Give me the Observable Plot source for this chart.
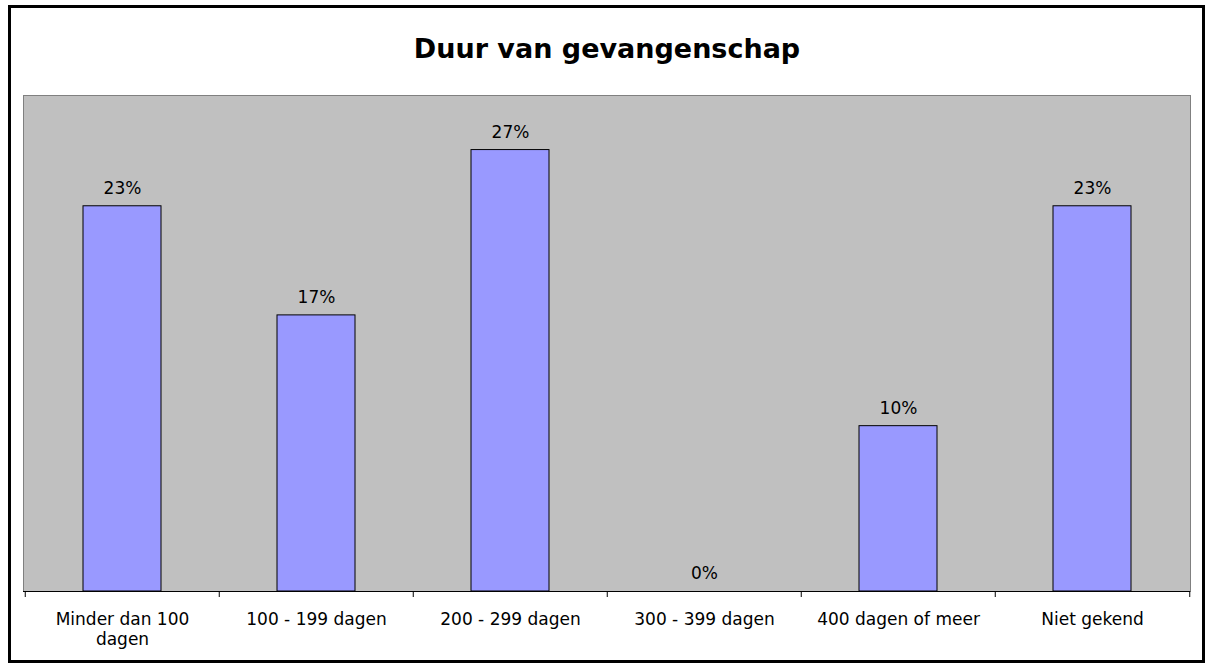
<!DOCTYPE html>
<html>
<head>
<meta charset="utf-8">
<script src="https://cdn.jsdelivr.net/npm/d3@7"></script>
<script src="https://cdn.jsdelivr.net/npm/@observablehq/plot@0.6"></script>
<style>
  html, body { margin: 0; padding: 0; background: #fff; }
  #wrap { position: relative; width: 1207px; height: 664px; overflow: hidden; }
  #border { position: absolute; left: 8px; top: 5px; width: 1191px; height: 652px; border: 3px solid #000; box-sizing: content-box; pointer-events: none; }
  #chart { position: absolute; left: 0; top: 0; }
</style>
</head>
<body>
<div id="wrap">
  <div id="chart"></div>
  <div id="border"></div>
</div>
<script>
const title = "Duur van gevangenschap";
const categories = ["Minder dan 100\ndagen", "100 - 199 dagen", "200 - 299 dagen", "300 - 399 dagen", "400 dagen of meer", "Niet gekend"];
const values = [23.3, 16.7, 26.7, 0, 10, 23.3];
const valueLabels = ["23%", "17%", "27%", "0%", "10%", "23%"];

const data = categories.map((c, i) => ({cat: c, value: values[i], label: valueLabels[i]}));

const W = 1207, H = 664;
const mL = 23, mR = 17, mT = 95, mB = 73;
const step = (W - mL - mR) / categories.length;
const font = "'DejaVu Sans', 'Liberation Sans', Arial, sans-serif";

const plot = Plot.plot({
  width: W,
  height: H,
  marginLeft: mL,
  marginRight: mR,
  marginTop: mT,
  marginBottom: mB,
  style: {fontFamily: font, fontSize: "17px", color: "#000", background: "transparent"},
  x: {domain: categories, paddingInner: 0.6, paddingOuter: 0.3, label: null},
  y: {domain: [0, 30], axis: null},
  marks: [
    Plot.frame({fill: "#c0c0c0", stroke: "#808080", strokeWidth: 1}),
    Plot.barY(data, {x: "cat", y: "value", fill: "#9999ff", stroke: "#000", strokeWidth: 1}),
    Plot.text(data, {x: "cat", y: "value", text: "label", dy: -18, fontSize: 17, fill: "#000"}),
    Plot.ruleY([0], {stroke: "#000", strokeWidth: 1}),
    Plot.axisX({tickSize: 0, tickPadding: 20, fontSize: 17, lineHeight: 1.15, textAnchor: "middle", fill: "#000"}),
    Plot.axisX(categories, {tickSize: 6, tickFormat: () => "", dx: -step / 2, stroke: "#000"}),
    Plot.axisX([categories[categories.length - 1]], {tickSize: 6, tickFormat: () => "", dx: step / 2, stroke: "#000"}),
    Plot.text([title], {frameAnchor: "top", dy: -57, fontSize: 27, fontWeight: "bold", fill: "#000", fontFamily: font})
  ]
});
document.getElementById("chart").appendChild(plot);
</script>
</body>
</html>
